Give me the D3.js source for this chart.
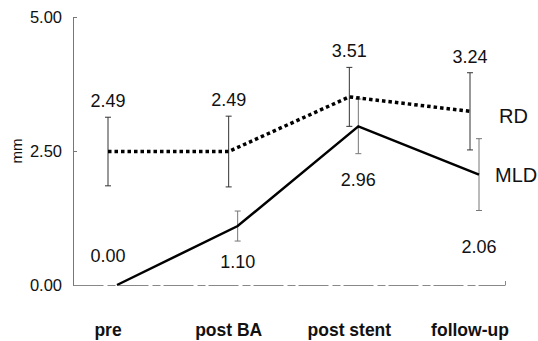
<!DOCTYPE html>
<html>
<head>
<meta charset="utf-8">
<script src="https://cdn.jsdelivr.net/npm/d3@7"></script>
<style>
  body { margin: 0; background: #fff; }
  text { font-family: Arial, "Liberation Sans", sans-serif; }
</style>
</head>
<body>
<svg id="chart" width="538" height="341"></svg>
<script>
// data
const categories = ["pre", "post BA", "post stent", "follow-up"];
const rdValues = [2.49, 2.49, 3.51, 3.24];
const rdSd = [0.64, 0.66, 0.55, 0.72];
const mldValues = [0.00, 1.10, 2.96, 2.06];
const mldSd = [0, 0.28, 0.51, 0.67];
const yTicks = [0, 2.5, 5];

const svg = d3.select("#chart");

const x = d3.scalePoint().domain(categories).range([108, 470]);
const y = d3.scaleLinear().domain([0, 5]).range([285, 17]);
const mldShift = 9; // MLD marks sit a little right of RD

// y axis
const yAxis = d3.axisLeft(y)
  .tickValues(yTicks)
  .tickFormat(d3.format(".2f"))
  .tickSizeInner(-4)
  .tickSizeOuter(0)
  .tickPadding(11);
const gy = svg.append("g").attr("transform", "translate(73,0)").call(yAxis);
gy.select(".domain").attr("stroke", "#777");
gy.selectAll(".tick line").attr("stroke", "#777");
gy.selectAll(".tick text").attr("font-size", 16.5).attr("fill", "#111");

// x axis line (no labels from the axis itself)
const xAxisScale = d3.scaleLinear().domain([0, 1]).range([73, 505]);
const gx = svg.append("g").attr("transform", "translate(0,285)")
  .call(d3.axisBottom(xAxisScale).tickValues([1]).tickFormat("").tickSizeInner(-4).tickSizeOuter(0));
gx.select(".domain").attr("stroke", "#888").attr("stroke-dasharray", "30,4,8,3");
gx.selectAll(".tick line").attr("stroke", "#888");

// category labels
svg.append("g").selectAll("text").data(categories).join("text")
  .attr("x", d => x(d))
  .attr("y", 336)
  .attr("text-anchor", "middle")
  .attr("font-size", 17.5)
  .attr("font-weight", "bold")
  .attr("fill", "#111")
  .text(d => d);

// y title
svg.append("text")
  .attr("transform", `translate(22,${y(2.5)}) rotate(-90)`)
  .attr("text-anchor", "middle")
  .attr("font-size", 15)
  .attr("fill", "#111")
  .text("mm");

// error bars
function errorBars(values, sd, shift, color) {
  const g = svg.append("g").attr("stroke", color).attr("stroke-width", 1);
  values.forEach((v, i) => {
    if (!sd[i]) return;
    const cx = x(categories[i]) + shift;
    g.append("line").attr("x1", cx).attr("x2", cx).attr("y1", y(v + sd[i])).attr("y2", y(v - sd[i]));
    g.append("line").attr("x1", cx - 3).attr("x2", cx + 3).attr("y1", y(v + sd[i])).attr("y2", y(v + sd[i]));
    g.append("line").attr("x1", cx - 3).attr("x2", cx + 3).attr("y1", y(v - sd[i])).attr("y2", y(v - sd[i]));
  });
}
errorBars(rdValues, rdSd, 0, "#333");
errorBars(mldValues, mldSd, mldShift, "#777");

// lines
const rdLine = d3.line().x((d, i) => x(categories[i])).y(d => y(d));
const mldLine = d3.line().x((d, i) => x(categories[i]) + mldShift).y(d => y(d));

svg.append("path").datum(rdValues)
  .attr("d", rdLine)
  .attr("fill", "none")
  .attr("stroke", "#000")
  .attr("stroke-width", 3.5)
  .attr("stroke-dasharray", "3.5,3");

svg.append("path").datum(mldValues)
  .attr("d", mldLine)
  .attr("fill", "none")
  .attr("stroke", "#000")
  .attr("stroke-width", 2.5);

// value labels
svg.append("g").selectAll("text").data(rdValues).join("text")
  .attr("x", (d, i) => x(categories[i]))
  .attr("y", (d, i) => y(d + rdSd[i]) - 10)
  .attr("text-anchor", "middle")
  .attr("font-size", 18)
  .attr("fill", "#111")
  .text(d => d.toFixed(2));

const mldLabelY = [262, 268, 186, 253];
svg.append("g").selectAll("text").data(mldValues).join("text")
  .attr("x", (d, i) => x(categories[i]) + (i === 0 ? 0 : mldShift))
  .attr("y", (d, i) => mldLabelY[i])
  .attr("text-anchor", "middle")
  .attr("font-size", 18)
  .attr("fill", "#111")
  .text(d => d.toFixed(2));

// series labels
svg.append("text").attr("x", 499).attr("y", 123)
  .attr("font-size", 20).attr("fill", "#111").text("RD");
svg.append("text").attr("x", 495).attr("y", 182)
  .attr("font-size", 20).attr("fill", "#111").text("MLD");
</script>
</body>
</html>
